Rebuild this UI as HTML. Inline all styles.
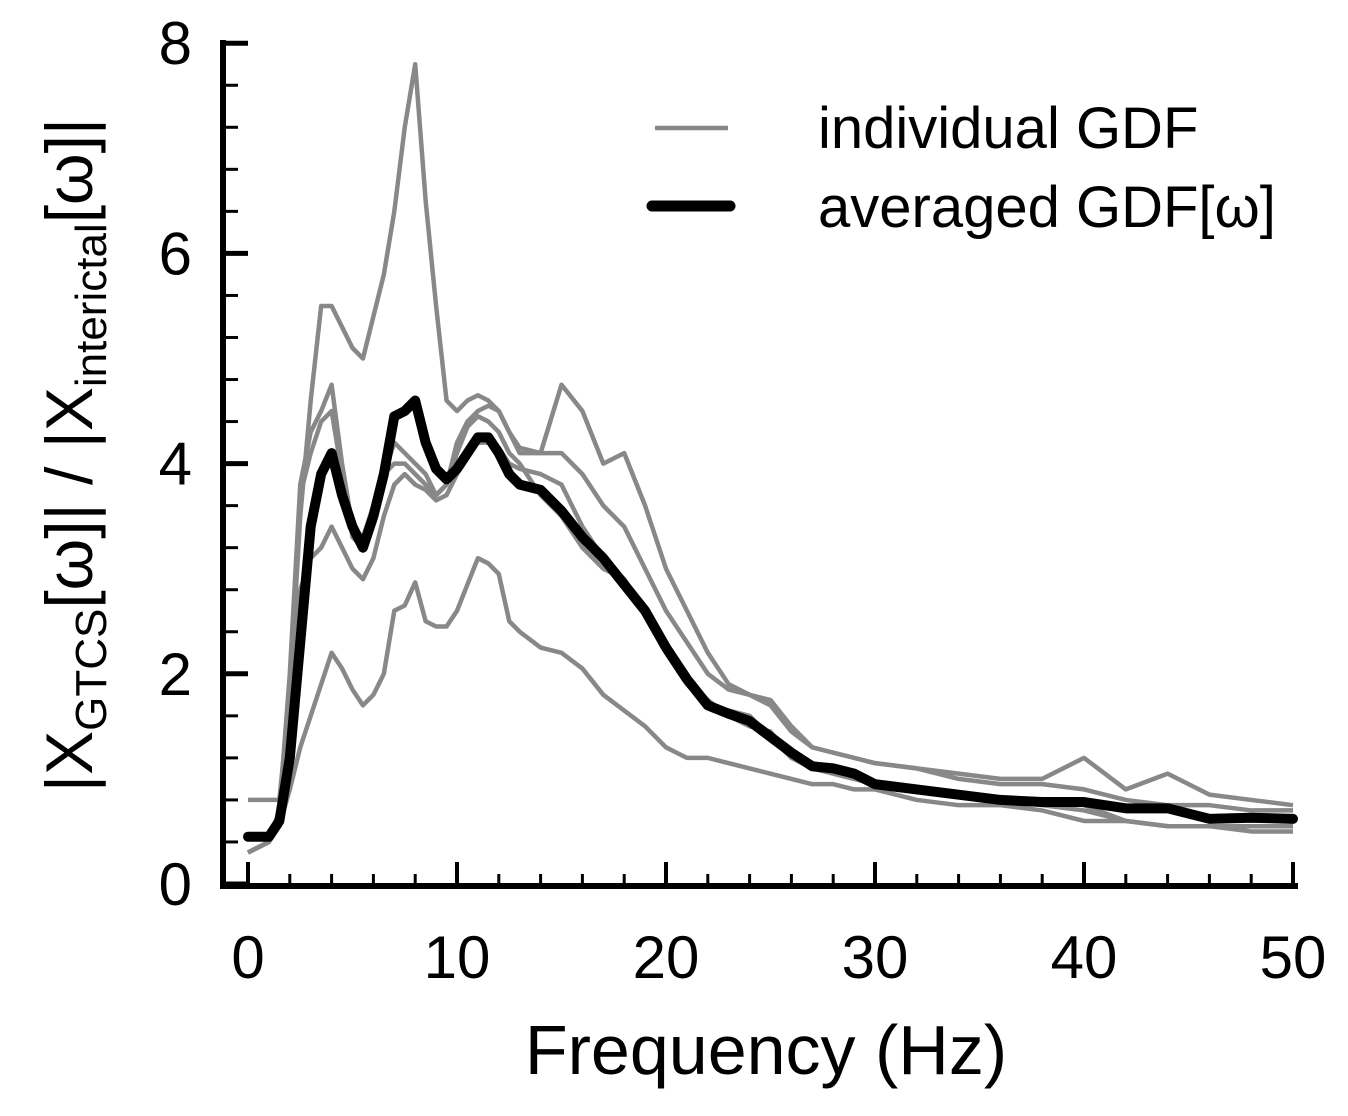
<!DOCTYPE html>
<html><head><meta charset="utf-8"><style>
body{margin:0;background:#fff}
svg{display:block;font-family:"Liberation Sans",Arial,sans-serif}
</style></head><body>
<svg id="chart" width="1348" height="1116" viewBox="0 0 1348 1116" xmlns="http://www.w3.org/2000/svg">
<g id="series"></g>
<g id="axes"></g>
<g>
<line x1="655" y1="128" x2="728" y2="128" stroke="#888" stroke-width="4.5"/>
<text x="818" y="148" font-size="58">individual GDF</text>
<line x1="652" y1="206" x2="730" y2="206" stroke="#000" stroke-width="11" stroke-linecap="round"/>
<text x="818" y="227" font-size="58">averaged GDF[ω]</text>
</g>
<text x="766" y="1074" font-size="70" text-anchor="middle">Frequency (Hz)</text>
<text transform="translate(92,455) rotate(-90)" font-size="66" text-anchor="middle">|X<tspan font-size="44" dy="14">GTCS</tspan><tspan dy="-14">[ω]| / |X</tspan><tspan font-size="44" dy="14">interictal</tspan><tspan dy="-14">[ω]|</tspan></text>
</svg>
<script>
const freqs=[0,1,1.5,2,2.5,3,3.5,4,4.5,5,5.5,6,6.5,7,7.5,8,8.5,9,9.5,10,10.5,11,11.5,12,12.5,13,14,15,16,17,18,19,20,21,22,23,24,25,26,27,28,29,30,32,34,36,38,40,42,44,46,48,50];
const ind1=[0.3,0.4,0.7,1.8,3.5,4.6,5.5,5.5,5.3,5.1,5.0,5.4,5.8,6.4,7.2,7.8,6.5,5.5,4.6,4.5,4.6,4.65,4.6,4.5,4.3,4.1,4.1,4.1,3.9,3.6,3.4,3.0,2.6,2.3,2.0,1.85,1.8,1.7,1.45,1.3,1.25,1.2,1.15,1.1,1.0,0.95,0.95,0.9,0.8,0.75,0.75,0.7,0.7];
const ind2=[0.3,0.4,0.7,2.0,3.8,4.3,4.5,4.75,4.0,3.4,3.3,3.6,3.9,4.2,4.1,4.0,3.9,3.7,3.8,4.2,4.4,4.5,4.55,4.5,4.3,4.15,4.1,4.75,4.5,4.0,4.1,3.6,3.0,2.6,2.2,1.9,1.8,1.75,1.5,1.3,1.25,1.2,1.15,1.1,1.05,1.0,1.0,1.2,0.9,1.05,0.85,0.8,0.75];
const ind3=[0.8,0.8,0.8,1.8,3.7,4.1,4.4,4.5,3.9,3.3,3.2,3.5,3.9,4.0,4.0,3.9,3.8,3.7,3.8,4.1,4.35,4.45,4.4,4.3,4.1,4.0,3.7,3.5,3.2,3.0,2.9,2.6,2.2,1.9,1.7,1.65,1.6,1.4,1.2,1.15,1.1,1.05,0.95,0.9,0.85,0.8,0.8,0.75,0.6,0.55,0.55,0.55,0.55];
const ind4=[0.3,0.4,0.6,1.5,2.8,3.1,3.2,3.4,3.2,3.0,2.9,3.1,3.5,3.8,3.9,3.8,3.75,3.65,3.7,3.9,4.1,4.2,4.2,4.15,4.0,3.95,3.9,3.8,3.4,3.1,2.9,2.6,2.25,1.95,1.75,1.6,1.5,1.45,1.2,1.1,1.05,1.0,0.95,0.9,0.85,0.8,0.75,0.7,0.6,0.55,0.55,0.5,0.5];
const ind5=[0.3,0.4,0.55,0.9,1.3,1.6,1.9,2.2,2.05,1.85,1.7,1.8,2.0,2.6,2.65,2.87,2.5,2.45,2.45,2.6,2.85,3.1,3.05,2.95,2.5,2.4,2.25,2.2,2.05,1.8,1.65,1.5,1.3,1.2,1.2,1.15,1.1,1.05,1.0,0.95,0.95,0.9,0.9,0.8,0.75,0.75,0.7,0.6,0.6,0.55,0.55,0.55,0.55];
const avg=[0.45,0.45,0.6,1.2,2.3,3.4,3.9,4.1,3.7,3.4,3.2,3.5,3.9,4.45,4.5,4.6,4.2,3.95,3.85,3.95,4.1,4.25,4.25,4.1,3.9,3.8,3.75,3.55,3.3,3.1,2.85,2.6,2.25,1.95,1.7,1.62,1.55,1.4,1.25,1.12,1.1,1.05,0.95,0.9,0.85,0.8,0.78,0.78,0.72,0.72,0.62,0.63,0.62];
const xTicks=[0,10,20,30,40,50];
const yTicks=[0,2,4,6,8];
const NS="http://www.w3.org/2000/svg";
const X0=248,XS=20.9,Y0=884,YS=105.1;
function xs(v){return X0+v*XS;}
function ys(v){return Y0-v*YS;}
function mk(tag,attrs,parent){const e=document.createElementNS(NS,tag);for(const k in attrs)e.setAttribute(k,attrs[k]);parent.appendChild(e);return e;}
const sg=document.getElementById('series');
const grays=[ind1,ind2,ind3,ind4,ind5];
grays.forEach((s,i)=>{
 const p=mk('polyline',{points:freqs.map((f,j)=>xs(f)+','+ys(s[j])).join(' '),fill:'none',stroke:'#888','stroke-width':4.5,'stroke-linejoin':'round'},sg);
 
 
});
const a=mk('polyline',{points:freqs.map((f,j)=>xs(f)+','+ys(avg[j])).join(' '),fill:'none',stroke:'#000','stroke-width':10,'stroke-linejoin':'round','stroke-linecap':'round'},sg);


const ax=document.getElementById('axes');
const yl=mk('line',{x1:223,y1:40,x2:223,y2:889,stroke:'#000','stroke-width':6},ax);


const xl=mk('line',{x1:220,y1:886,x2:1298,y2:886,stroke:'#000','stroke-width':6},ax);


for(let v=0;v<=50;v+=2){mk('line',{x1:xs(v),y1:884,x2:xs(v),y2:874,stroke:'#000','stroke-width':3},ax);}
xTicks.forEach(v=>{
 mk('line',{x1:xs(v),y1:884,x2:xs(v),y2:862,stroke:'#000','stroke-width':4},ax);
 const t=mk('text',{x:xs(v),y:978,'font-size':60,'text-anchor':'middle'},ax);t.textContent=v;
 
 
});
for(let v=0;v<=8.001;v+=0.4){mk('line',{x1:223,y1:ys(v),x2:238,y2:ys(v),stroke:'#000','stroke-width':3},ax);}
yTicks.forEach(v=>{
 mk('line',{x1:223,y1:ys(v),x2:248,y2:ys(v),stroke:'#000','stroke-width':5},ax);
 const t=mk('text',{x:192,y:ys(v)+21,'font-size':60,'text-anchor':'end'},ax);t.textContent=v;
 
 
});
</script>
</body></html>
